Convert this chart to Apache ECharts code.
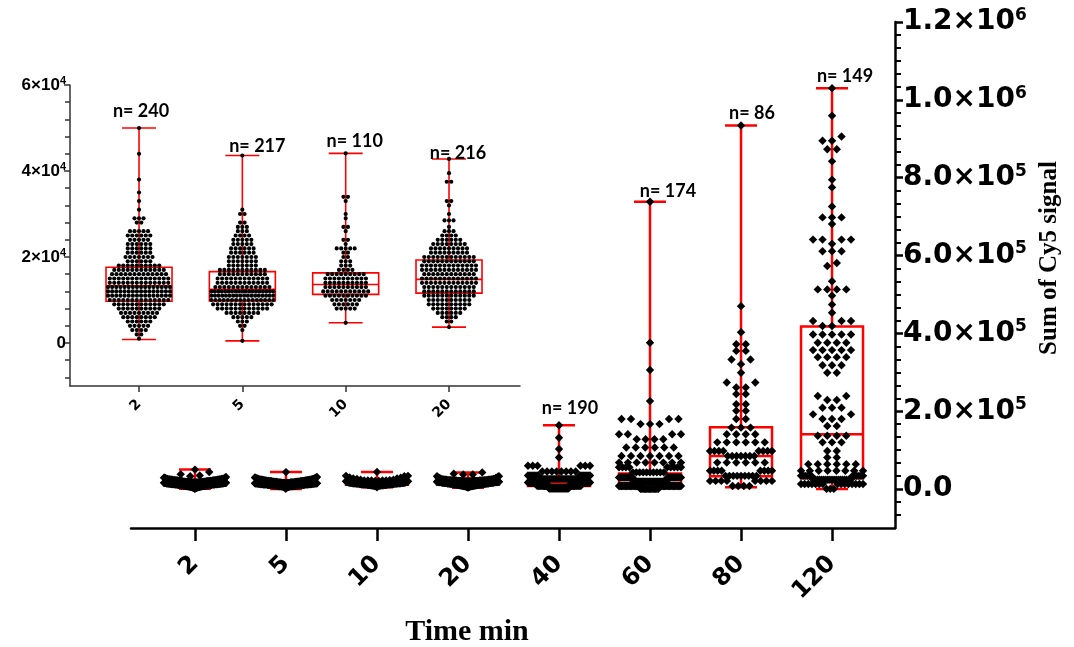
<!DOCTYPE html>
<html><head><meta charset="utf-8">
<script src="https://cdn.jsdelivr.net/npm/echarts@6/dist/echarts.min.js"></script>
<style>html,body{margin:0;padding:0;background:#fff}#c{width:1074px;height:647px}</style>
</head><body><div id="c"></div>
<script>
// ---------------- DATA ----------------
const categories = ['2','5','10','20','40','60','80','120'];
const insetCategories = ['2','5','10','20'];
const nCounts = [240,217,110,216,190,174,86,149];
// box stats per group: [min, Q1, median, Q3, max]
const boxStats = [
  [800, 9700, 13300, 17600, 50000],
  [500, 9800, 12500, 16600, 43600],
  [4700, 11300, 13600, 16300, 44100],
  [3700, 11600, 14800, 19300, 42800],
  [1000, 8000, 14000, 22000, 164000],
  [5000, 15000, 23000, 40000, 738000],
  [5000, 33000, 85000, 159000, 934000],
  [0, 28000, 141000, 418000, 1030000]
];
// dots per group: [value in thousands, number of cells at that value]
const dots2 = [[50,1],[44,1],[38,1],[35,1],[33,1],[31,1],[29,3],[28,2],[26,5],[25,6],[24,5],[23,6],[22,6],[21,6],[20,7],[19,6],[18,10],[17,12],[16,13],[15,14],[14,14],[13,16],[12,16],[11,16],[10,14],[9,12],[8,10],[7,9],[6,8],[5,6],[4,5],[3,4],[2,2],[1,1]];
const dots5 = [[43.6,1],[31,1],[30,2],[28,2],[27,3],[26,3],[25,4],[24,5],[23,5],[22,6],[21,6],[20,7],[19,7],[18,7],[17,11],[16,11],[15,12],[14,12],[13,13],[12,19],[11,18],[10,16],[9,14],[8,12],[7,8],[6,5],[5,3],[4,2],[3,1],[0.5,1]];
const dots10 = [[44.1,1],[34,2],[33,1],[30,1],[29,1],[27,2],[26,1],[24,2],[23,1],[22,5],[21,2],[20,2],[19,3],[18,3],[17,4],[16,9],[15,10],[14,10],[13,10],[12,11],[11,10],[10,7],[9,6],[8,5],[4.7,1]];
const dots20 = [[42.8,1],[39.5,1],[37.5,2],[33,2],[32,1],[30,1],[28.5,3],[27,1],[26,3],[25,4],[24,6],[23,8],[22,9],[21,9],[20,12],[19,12],[18,13],[17,13],[16,12],[15,13],[14,13],[13,12],[12,12],[11,12],[10,10],[9,10],[8,8],[7,6],[6,4],[5,2],[3.7,1]];
const dots40 = [[164,1],[132,1],[103,1],[81,1],[60,6],[45,8],[35,12],[26,20],[17,40],[9,55],[2,45]];
const dots60 = [[738,1],[376,1],[306,1],[226,1],[180,4],[167,3],[141,4],[128,4],[107,6],[85,7],[68,8],[56,9],[43,10],[30,30],[19,35],[8,35],[0.5,15]];
const dots80 = [[934,1],[470,1],[403,1],[372,2],[355,2],[333,2],[321,1],[299,1],[274,2],[261,2],[244,2],[218,2],[201,2],[180,2],[158,3],[141,4],[120,6],[98,8],[85,7],[68,6],[47,8],[34,9],[21,8],[8,4]];
const dots120 = [[1030,1],[959,1],[906,1],[895,2],[873,2],[842,1],[795,1],[775,1],[726,1],[698,3],[681,1],[641,4],[630,1],[611,3],[581,1],[573,1],[534,1],[513,4],[497,1],[474,1],[453,1],[432,3],[419,2],
  [397,5],[376,4],[357,5],[339,4],[318,3],[299,2],[239,2],[229,2],[209,3],[192,2],[180,3],[162,2],
  [137,4],[120,3],[98,2],[81,2],[64,6],[47,8],[34,12],[24,19],[13,15],[0.5,3]];
const groupDots = [dots2, dots5, dots10, dots20, dots40, dots60, dots80, dots120];

const mainTickValues = [0, 200000, 400000, 600000, 800000, 1000000, 1200000];
const mainTickLabels = ['0.0','2.0×10^5','4.0×10^5','6.0×10^5','8.0×10^5','1.0×10^6','1.2×10^6'];
const insetTickValues = [0, 20000, 40000, 60000];
const insetTickLabels = ['0','2×10^4','4×10^4','6×10^4'];

// ---------------- LAYOUT / STYLE ----------------
const RED = '#ff0000';
const SANS = '"Liberation Sans", Arial, sans-serif';
const WIDE = '"DejaVu Sans", "Liberation Sans", sans-serif';
const SERIF = '"Liberation Serif", "Times New Roman", serif';
const nNudgeMain = [[11,-8],[18,-2],[11,-3],[13,-3]];   // groups 40..120
const nNudgeInset = [[2,-8],[15,0],[9,-3],[9,3]];        // groups 2..20

function rich(t){ const p = t.split('^'); return p.length > 1 ? '{b|' + p[0] + '}{s|' + p[1] + '}' : '{b|' + p[0] + '}'; }
function labelFor(vals, labs){ return v => { const i = vals.findIndex(t => Math.abs(t - v) < 0.5); return i < 0 ? '' : rich(labs[i]); }; }
const mainMinor = []; for (let k = -2; k <= 36; k++) if (k % 6 !== 0) mainMinor.push(k * 200000 / 6);
const insetMinor = []; for (let k = -2; k <= 15; k++) if (k % 5 !== 0) insetMinor.push(k * 4000);
const mainIdx = categories.map((c, i) => i);
const insetIdx = insetCategories.map((c, i) => i);

const chart = echarts.init(document.getElementById('c'));
const baseOption = {
  animation: false,
  backgroundColor: '#fff',
  grid: [
    {left: 131, right: 179, top: 22, bottom: 119},
    {left: 70, right: 554, top: 85, bottom: 261}
  ],
  xAxis: [
    {gridIndex: 0, type: 'value', min: -0.703, max: 7.692, splitLine: {show: false},
     axisLine: {onZero: false, lineStyle: {color: '#000', width: 2.5}},
     axisTick: {customValues: mainIdx, length: 13, lineStyle: {color: '#000', width: 2.5}},
     axisLabel: {customValues: mainIdx, formatter: v => categories[Math.round(v)], rotate: 45, margin: 32,
       fontSize: 24, fontWeight: 'bold', fontFamily: WIDE, color: '#000'}},
    {gridIndex: 1, type: 'value', min: -0.668, max: 3.687, splitLine: {show: false},
     axisLine: {onZero: false, lineStyle: {color: '#333', width: 1.5}},
     axisTick: {customValues: insetIdx, length: 6, lineStyle: {color: '#333', width: 1.5}},
     axisLabel: {customValues: insetIdx, formatter: v => insetCategories[Math.round(v)], rotate: 45, margin: 16,
       fontSize: 14, fontWeight: 'bold', fontFamily: WIDE, color: '#000'}}
  ],
  yAxis: [
    {gridIndex: 0, type: 'value', position: 'right', min: -100000, max: 1200000, splitLine: {show: false},
     axisLine: {show: true, onZero: false, lineStyle: {color: '#000', width: 2.5}},
     axisTick: {show: true, customValues: mainTickValues, length: 8, lineStyle: {color: '#000', width: 2.5}},
     axisLabel: {customValues: mainTickValues, formatter: labelFor(mainTickValues, mainTickLabels), margin: 8,
       rich: {b: {fontSize: 28, fontWeight: 'bold', fontFamily: WIDE, color: '#000', lineHeight: 30},
              s: {fontSize: 17, fontWeight: 'bold', fontFamily: WIDE, color: '#000', lineHeight: 17, verticalAlign: 'top'}}}},
    {gridIndex: 0, type: 'value', position: 'right', min: -100000, max: 1200000, splitLine: {show: false},
     axisLine: {show: false, onZero: false}, axisLabel: {show: false},
     axisTick: {show: true, customValues: mainMinor, length: 6, lineStyle: {color: '#000', width: 2}}},
    {gridIndex: 1, type: 'value', position: 'left', min: -10000, max: 60000, splitLine: {show: false},
     axisLine: {show: true, onZero: false, lineStyle: {color: '#333', width: 1.5}},
     axisTick: {show: true, customValues: insetTickValues, length: 6, lineStyle: {color: '#333', width: 1.5}},
     axisLabel: {customValues: insetTickValues, formatter: labelFor(insetTickValues, insetTickLabels), margin: 4,
       rich: {b: {fontSize: 17, fontWeight: 'bold', fontFamily: SANS, color: '#000', lineHeight: 19},
              s: {fontSize: 11, fontWeight: 'bold', fontFamily: SANS, color: '#000', lineHeight: 11, verticalAlign: 'top'}}}},
    {gridIndex: 1, type: 'value', position: 'left', min: -10000, max: 60000, splitLine: {show: false},
     axisLine: {show: false, onZero: false}, axisLabel: {show: false},
     axisTick: {show: true, customValues: insetMinor, length: 5, lineStyle: {color: '#333', width: 1.5}}}
  ],
  graphic: [
    {type: 'text', x: 467, y: 632, style: {text: 'Time min', font: 'bold 30px ' + SERIF, fill: '#000', align: 'center', verticalAlign: 'middle'}},
    {type: 'text', x: 1050, y: 258, rotation: Math.PI / 2, style: {text: 'Sum of Cy5 signal', font: 'bold 25px ' + SERIF, fill: '#000', align: 'center', verticalAlign: 'middle'}}
  ],
  series: []
};
chart.setOption(baseOption);

// ---------------- beeswarm layout (pixel offsets only) ----------------
function expand(rows){ const v = []; rows.forEach(([k, c]) => { for (let i = 0; i < c; i++) v.push(k * 1000); }); return v.sort((a, b) => a - b); }
function swarm(vals, toPx, rowPx, step, halfMax){
  const out = []; let i = 0;
  while (i < vals.length) {
    const y0 = toPx(vals[i]); let j = i;
    while (j < vals.length && Math.abs(toPx(vals[j]) - y0) < rowPx) j++;
    const n = j - i; const s = n > 1 ? Math.min(step, 2 * halfMax / (n - 1)) : 0;
    const offs = []; for (let k = 0; k < n; k++) offs.push((k - (n - 1) / 2) * s);
    offs.sort((a, b) => Math.abs(a) - Math.abs(b));
    for (let k = 0; k < n; k++) out.push([vals[i + k], offs[k]]);
    i = j;
  }
  return out;
}
const toPxMain = v => chart.convertToPixel({gridIndex: 0}, [0, v])[1];
const toPxInset = v => chart.convertToPixel({gridIndex: 1}, [0, v])[1];
const mainDots = [], insetDots = [];
groupDots.forEach((rows, gi) => {
  swarm(expand(rows), toPxMain, 6, 9.5, 31).forEach(([v, dx]) => mainDots.push([gi, v, dx]));
  if (gi < 4) swarm(expand(rows), toPxInset, 3.5, 4.5, 31).forEach(([v, dx]) => insetDots.push([gi, v, dx]));
});

function boxRenderer(hw, cap, lw){
  return (params, api) => {
    const x = api.value(0);
    const p = [1, 2, 3, 4, 5].map(d => api.coord([x, api.value(d)]));
    const cx = p[0][0];
    const st = {stroke: RED, lineWidth: lw, fill: 'none'};
    return {type: 'group', children: [
      {type: 'line', shape: {x1: cx, y1: p[4][1], x2: cx, y2: p[3][1]}, style: st},
      {type: 'line', shape: {x1: cx, y1: p[1][1], x2: cx, y2: p[0][1]}, style: st},
      {type: 'line', shape: {x1: cx - cap, y1: p[4][1], x2: cx + cap, y2: p[4][1]}, style: st},
      {type: 'line', shape: {x1: cx - cap, y1: p[0][1], x2: cx + cap, y2: p[0][1]}, style: st},
      {type: 'rect', shape: {x: cx - hw, y: p[3][1], width: 2 * hw, height: p[1][1] - p[3][1]}, style: st},
      {type: 'line', shape: {x1: cx - hw, y1: p[2][1], x2: cx + hw, y2: p[2][1]}, style: st}
    ]};
  };
}
function labelRenderer(nudges){
  return (params, api) => {
    const p = api.coord([api.value(0), api.value(1)]);
    const nd = nudges[params.dataIndex];
    return {type: 'text', x: p[0] + nd[0], y: p[1] + nd[1],
      style: {text: 'n= ' + api.value(2), font: 'bold 18px Lato, "Liberation Sans", sans-serif', fill: '#000', align: 'center', verticalAlign: 'bottom'}};
  };
}

chart.setOption({series: [
  {type: 'custom', xAxisIndex: 0, yAxisIndex: 0, z: 1, data: boxStats.map((b, i) => [i].concat(b)),
   encode: {x: 0, y: [1, 2, 3, 4, 5]}, renderItem: boxRenderer(31, 16, 2.5)},
  {type: 'custom', xAxisIndex: 1, yAxisIndex: 2, z: 1, data: boxStats.slice(0, 4).map((b, i) => [i].concat(b)),
   encode: {x: 0, y: [1, 2, 3, 4, 5]}, renderItem: boxRenderer(33, 17, 1.6)},
  {type: 'custom', xAxisIndex: 0, yAxisIndex: 0, z: 2, data: mainDots, encode: {x: 0, y: 1},
   renderItem: (params, api) => { const p = api.coord([api.value(0), api.value(1)]); const x = p[0] + api.value(2), y = p[1], r = 4.2;
     return {type: 'polygon', shape: {points: [[x, y - r], [x + r, y], [x, y + r], [x - r, y]]}, style: {fill: '#000'}}; }},
  {type: 'custom', xAxisIndex: 1, yAxisIndex: 2, z: 2, data: insetDots, encode: {x: 0, y: 1},
   renderItem: (params, api) => { const p = api.coord([api.value(0), api.value(1)]);
     return {type: 'circle', shape: {cx: p[0] + api.value(2), cy: p[1], r: 2.1}, style: {fill: '#000'}}; }},
  {type: 'custom', xAxisIndex: 0, yAxisIndex: 0, z: 3, data: [4, 5, 6, 7].map(i => [i, boxStats[i][4], nCounts[i]]),
   encode: {x: 0, y: 1}, renderItem: labelRenderer(nNudgeMain)},
  {type: 'custom', xAxisIndex: 1, yAxisIndex: 2, z: 3, data: [0, 1, 2, 3].map(i => [i, boxStats[i][4], nCounts[i]]),
   encode: {x: 0, y: 1}, renderItem: labelRenderer(nNudgeInset)}
]});
</script></body></html>
